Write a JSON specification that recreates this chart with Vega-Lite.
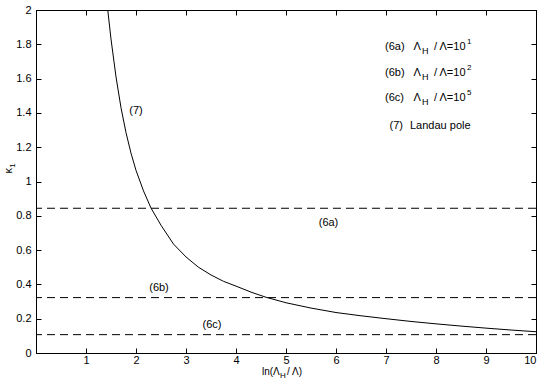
{
  "$schema": "https://vega.github.io/schema/vega-lite/v6.json",
  "width": 500,
  "height": 343,
  "autosize": {"type": "none"},
  "padding": {"left": 36, "top": 10, "right": 9, "bottom": 29},
  "background": "white",
  "config": {
    "view": {"stroke": "#000", "strokeWidth": 1},
    "font": "Liberation Sans",
    "axis": {
      "grid": false,
      "domainColor": "#000",
      "domainWidth": 1,
      "tickColor": "#000",
      "tickSize": -5,
      "labelColor": "#000",
      "labelFont": "Liberation Sans",
      "labelFontSize": 11,
      "labelFontWeight": "normal"
    },
    "text": {"font": "Liberation Sans", "fontSize": 11, "color": "#000"}
  },
  "datasets": {
    "curve": [
      {"x": 1.435, "k": 2.0},
      {"x": 1.5, "k": 1.83},
      {"x": 1.6, "k": 1.61},
      {"x": 1.7, "k": 1.43},
      {"x": 1.8, "k": 1.285},
      {"x": 1.9, "k": 1.165},
      {"x": 2.0, "k": 1.065},
      {"x": 2.15, "k": 0.945},
      {"x": 2.3, "k": 0.845},
      {"x": 2.5, "k": 0.745},
      {"x": 2.75, "k": 0.635},
      {"x": 3.0, "k": 0.56},
      {"x": 3.25, "k": 0.5},
      {"x": 3.5, "k": 0.455},
      {"x": 3.75, "k": 0.418},
      {"x": 4.0, "k": 0.39},
      {"x": 4.3, "k": 0.355},
      {"x": 4.6, "k": 0.325},
      {"x": 5.0, "k": 0.293},
      {"x": 5.5, "k": 0.262},
      {"x": 6.0, "k": 0.236},
      {"x": 6.5, "k": 0.217},
      {"x": 7.0, "k": 0.2},
      {"x": 7.5, "k": 0.184},
      {"x": 8.0, "k": 0.17},
      {"x": 8.5, "k": 0.157},
      {"x": 9.0, "k": 0.145},
      {"x": 9.5, "k": 0.134},
      {"x": 10.0, "k": 0.124}
    ],
    "levels": [
      {"name": "6a", "k": 0.844},
      {"name": "6b", "k": 0.323},
      {"name": "6c", "k": 0.107}
    ],
    "centerLabels": [
      {"x": 2.0, "k": 1.41, "t": "(7)"},
      {"x": 5.85, "k": 0.757, "t": "(6a)"},
      {"x": 2.46, "k": 0.381, "t": "(6b)"},
      {"x": 3.52, "k": 0.166, "t": "(6c)"}
    ],
    "leftTexts": [
      {"x": 6.98, "k": 1.786, "t": "(6a)"},
      {"x": 7.55, "k": 1.786, "t": "Λ"},
      {"x": 7.96, "k": 1.786, "t": "/ Λ=10"},
      {"x": 6.98, "k": 1.631, "t": "(6b)"},
      {"x": 7.55, "k": 1.631, "t": "Λ"},
      {"x": 7.96, "k": 1.631, "t": "/ Λ=10"},
      {"x": 6.98, "k": 1.485, "t": "(6c)"},
      {"x": 7.55, "k": 1.485, "t": "Λ"},
      {"x": 7.96, "k": 1.485, "t": "/ Λ=10"},
      {"x": 7.07, "k": 1.324, "t": "(7)"},
      {"x": 7.48, "k": 1.324, "t": "Landau pole"}
    ],
    "titleTexts": [
      {"x": 4.52, "k": -0.108, "t": "ln(Λ"},
      {"x": 5.02, "k": -0.108, "t": "/ Λ)"}
    ],
    "titleSub": [
      {"x": 4.88, "k": -0.108, "t": "H"}
    ],
    "subTexts": [
      {"x": 7.72, "k": 1.786, "t": "H"},
      {"x": 7.72, "k": 1.631, "t": "H"},
      {"x": 7.72, "k": 1.485, "t": "H"}
    ],
    "supTexts": [
      {"x": 8.62, "k": 1.786, "t": "1"},
      {"x": 8.62, "k": 1.631, "t": "2"},
      {"x": 8.62, "k": 1.485, "t": "5"}
    ],
    "yTitle": [{"x": -0.55, "k": 1.062, "t": "κ"}],
    "yTitleSub": [{"x": -0.55, "k": 1.08, "t": "1"}]
  },
  "resolve": {"axis": {"x": "independent", "y": "independent"}},
  "layer": [
    {
      "data": {"name": "curve"},
      "mark": {"type": "line", "color": "#000", "strokeWidth": 1, "clip": true},
      "encoding": {
        "x": {
          "field": "x", "type": "quantitative",
          "scale": {"domain": [0, 10], "nice": false, "zero": false},
          "axis": {"orient": "bottom", "values": [1, 2, 3, 4, 5, 6, 7, 8, 9, 10], "title": null, "labelPadding": 6}
        },
        "y": {
          "field": "k", "type": "quantitative",
          "scale": {"domain": [0, 2], "nice": false},
          "axis": {"orient": "left", "values": [0, 0.2, 0.4, 0.6, 0.8, 1, 1.2, 1.4, 1.6, 1.8, 2], "format": "~g", "title": null, "labelPadding": 10}
        }
      }
    },
    {
      "data": {"name": "curve"},
      "mark": {"type": "point", "opacity": 0},
      "encoding": {
        "x": {
          "field": "x", "type": "quantitative",
          "axis": {"orient": "top", "values": [1, 2, 3, 4, 5, 6, 7, 8, 9, 10], "labels": false, "title": null}
        },
        "y": {
          "field": "k", "type": "quantitative",
          "axis": {"orient": "right", "values": [0, 0.2, 0.4, 0.6, 0.8, 1, 1.2, 1.4, 1.6, 1.8, 2], "labels": false, "title": null}
        }
      }
    },
    {
      "data": {"name": "levels"},
      "mark": {"type": "rule", "color": "#000", "strokeWidth": 1, "strokeDash": [8, 5]},
      "encoding": {
        "y": {"field": "k", "type": "quantitative", "axis": null}
      }
    },
    {
      "data": {"name": "centerLabels"},
      "mark": {"type": "text", "align": "center", "baseline": "middle"},
      "encoding": {
        "x": {"field": "x", "type": "quantitative", "axis": null},
        "y": {"field": "k", "type": "quantitative", "axis": null},
        "text": {"field": "t"}
      }
    },
    {
      "data": {"name": "leftTexts"},
      "mark": {"type": "text", "align": "left", "baseline": "middle"},
      "encoding": {
        "x": {"field": "x", "type": "quantitative", "axis": null},
        "y": {"field": "k", "type": "quantitative", "axis": null},
        "text": {"field": "t"}
      }
    },
    {
      "data": {"name": "titleTexts"},
      "mark": {"type": "text", "align": "left", "baseline": "middle", "fontSize": 10},
      "encoding": {
        "x": {"field": "x", "type": "quantitative", "axis": null},
        "y": {"field": "k", "type": "quantitative", "axis": null},
        "text": {"field": "t"}
      }
    },
    {
      "data": {"name": "titleSub"},
      "mark": {"type": "text", "align": "left", "baseline": "middle", "fontSize": 8, "dy": 4},
      "encoding": {
        "x": {"field": "x", "type": "quantitative", "axis": null},
        "y": {"field": "k", "type": "quantitative", "axis": null},
        "text": {"field": "t"}
      }
    },
    {
      "data": {"name": "subTexts"},
      "mark": {"type": "text", "align": "left", "baseline": "middle", "fontSize": 9, "dy": 4},
      "encoding": {
        "x": {"field": "x", "type": "quantitative", "axis": null},
        "y": {"field": "k", "type": "quantitative", "axis": null},
        "text": {"field": "t"}
      }
    },
    {
      "data": {"name": "supTexts"},
      "mark": {"type": "text", "align": "left", "baseline": "middle", "fontSize": 8, "dy": -5},
      "encoding": {
        "x": {"field": "x", "type": "quantitative", "axis": null},
        "y": {"field": "k", "type": "quantitative", "axis": null},
        "text": {"field": "t"}
      }
    },
    {
      "data": {"name": "yTitle"},
      "mark": {"type": "text", "align": "center", "baseline": "middle", "angle": 270, "fontSize": 11},
      "encoding": {
        "x": {"field": "x", "type": "quantitative", "axis": null},
        "y": {"field": "k", "type": "quantitative", "axis": null},
        "text": {"field": "t"}
      }
    },
    {
      "data": {"name": "yTitleSub"},
      "mark": {"type": "text", "align": "left", "baseline": "middle", "angle": 270, "fontSize": 8, "dy": 4},
      "encoding": {
        "x": {"field": "x", "type": "quantitative", "axis": null},
        "y": {"field": "k", "type": "quantitative", "axis": null},
        "text": {"field": "t"}
      }
    }
  ]
}
